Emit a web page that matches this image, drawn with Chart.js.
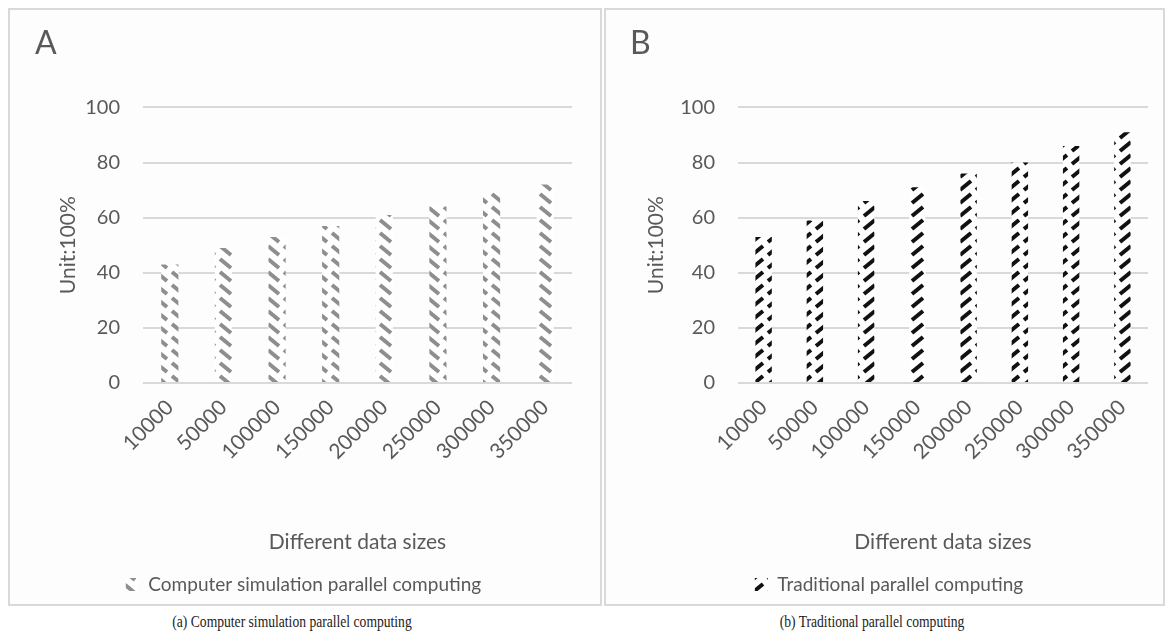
<!DOCTYPE html>
<html>
<head>
<meta charset="utf-8">
<script src="https://cdn.jsdelivr.net/npm/chart.js@4"></script>
<style>
  body { margin:0; background:#fff; width:1172px; height:638px; position:relative; overflow:hidden; }
  .panel { position:absolute; top:8px; height:594px; border:2px solid #d9d9d9; background:#fdfdfd; }
  #pa { left:8px; width:590px; }
  #pb { left:604px; width:557px; }
  .caption { position:absolute; top:612px; font-family:"Liberation Serif", serif; font-size:17px; color:#222;
             white-space:nowrap; transform:translateX(-50%) scaleX(0.8); }
</style>
</head>
<body>
<div class="panel" id="pa"><canvas id="chartA" width="590" height="594"></canvas></div>
<div class="panel" id="pb"><canvas id="chartB" width="557" height="594"></canvas></div>
<div class="caption" style="left:292px">(a) Computer simulation parallel computing</div>
<div class="caption" style="left:872px">(b) Traditional parallel computing</div>
<script>
const labels = ['10000', '50000', '100000', '150000', '200000', '250000', '300000', '350000'];
const simValues = [43, 49, 53, 57, 61, 64, 69, 72];
const tradValues = [53, 59, 66, 71, 76, 80, 86, 91];
const yTicks = [0, 20, 40, 60, 80, 100];

const textColor = '#595959';

// diagonal dash fill like the excel pattern
function hatch(color, upward){
  const c = document.createElement('canvas');
  c.width = 16;
  c.height = 13;
  const g = c.getContext('2d');
  g.fillStyle = '#ffffff';
  g.fillRect(0, 0, 16, 13);
  g.strokeStyle = color;
  g.lineWidth = 4;
  g.lineCap = 'butt';
  g.beginPath();
  if (upward) {
    g.moveTo(2, 11); g.lineTo(13, 2);
  } else {
    g.moveTo(2, 2); g.lineTo(13, 11);
  }
  g.stroke();
  return g.createPattern(c, 'repeat');
}

function makeChart(id, letter, seriesName, values, fill, pad, yTitlePad){
  const config = {
    type: 'bar',
    data: {
      labels: labels,
      datasets: [{
        label: seriesName,
        data: values,
        backgroundColor: fill,
        borderWidth: 0,
        barPercentage: 0.32,
        categoryPercentage: 1
      }]
    },
    options: {
      responsive: false,
      animation: false,
      layout: { padding: pad },
      plugins: {
        title: {
          display: true,
          text: letter,
          align: 'start',
          color: textColor,
          font: { family: 'Lato', size: 32, weight: 'normal' },
          padding: { top: 0, bottom: 45 }
        },
        legend: {
          position: 'bottom',
          labels: {
            color: textColor,
            font: { family: 'Lato', size: 19 },
            boxWidth: 13,
            boxHeight: 13,
            padding: 10
          }
        },
        tooltip: { enabled: false }
      },
      scales: {
        x: {
          grid: { display: false },
          border: { display: false },
          ticks: {
            color: textColor,
            font: { family: 'Lato', size: 21 },
            minRotation: 45,
            maxRotation: 45,
            padding: 4
          },
          title: {
            display: true,
            text: 'Different data sizes',
            color: textColor,
            font: { family: 'Lato', size: 21 },
            padding: { top: 0, bottom: 10 }
          },
          afterFit: function(s){ s.height = 182; }
        },
        y: {
          min: 0,
          max: 100,
          afterBuildTicks: function(s){ s.ticks = yTicks.map(v => ({ value: v })); },
          ticks: {
            color: textColor,
            font: { family: 'Lato', size: 20 },
            padding: 23
          },
          grid: { color: '#d9d9d9', lineWidth: 2, drawTicks: false },
          border: { display: false },
          title: {
            display: true,
            text: 'Unit:100%',
            color: textColor,
            font: { family: 'Lato', size: 21 },
            padding: { top: yTitlePad }
          },
          afterFit: function(s){ s.width = 108; }
        }
      }
    }
  };
  return new Chart(document.getElementById(id), config);
}

makeChart('chartA', 'A', 'Computer simulation parallel computing', simValues,
  hatch('#8e8e8e', false), { left: 25, right: 28, top: 14, bottom: 0 }, 21);
makeChart('chartB', 'B', 'Traditional parallel computing', tradValues,
  hatch('#111111', true), { left: 24, right: 15, top: 14, bottom: 0 }, 14);
</script>
</body>
</html>
